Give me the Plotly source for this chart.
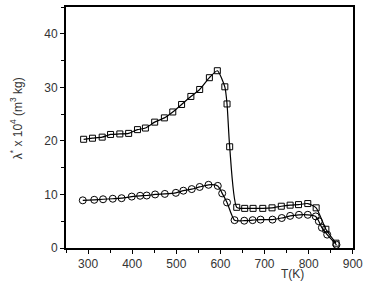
import plotly.graph_objects as go

sq_T = [290, 310, 332, 351, 372, 392, 412, 430, 451, 473, 492, 512, 533, 553, 575, 593, 610, 615, 621,
        637, 655, 674, 696, 717, 738, 758, 777, 798, 817, 839, 862]
sq_y = [20.3, 20.5, 20.7, 21.2, 21.3, 21.4, 22.1, 22.4, 23.5, 24.3, 25.4, 26.8, 28.3, 29.6, 31.8, 33.1, 30.1, 26.9, 18.9,
        7.6, 7.4, 7.4, 7.4, 7.5, 7.8, 8.0, 8.1, 8.3, 7.5, 3.5, 0.9]

ci_T = [288, 314, 334, 356, 376, 399, 418, 433, 452, 474, 499, 516, 535, 553, 573, 594, 604, 615,
        632, 654, 673, 691, 718, 739, 758, 778, 798, 816, 823, 830, 842, 863]
ci_y = [8.9, 9.0, 9.1, 9.2, 9.3, 9.6, 9.75, 9.8, 10.0, 10.1, 10.3, 10.7, 11.0, 11.4, 11.8, 11.6, 10.2, 8.5,
        5.2, 5.1, 5.2, 5.3, 5.3, 5.6, 6.0, 6.2, 6.2, 5.9, 5.0, 3.8, 2.5, 0.6]

x_ticks = [300, 400, 500, 600, 700, 800, 900]
y_ticks = [0, 10, 20, 30, 40]

fig = go.Figure()
fig.add_trace(go.Scatter(
    x=sq_T, y=sq_y, mode="lines+markers",
    line=dict(color="black", width=1.2, shape="spline", smoothing=0.6),
    marker=dict(symbol="square-open", size=6, color="black", line=dict(width=1)),
    showlegend=False))
fig.add_trace(go.Scatter(
    x=ci_T, y=ci_y, mode="lines+markers",
    line=dict(color="black", width=1.2, shape="spline", smoothing=0.6),
    marker=dict(symbol="circle-open", size=7, color="black", line=dict(width=1)),
    showlegend=False))

axis_common = dict(showline=True, linecolor="black", linewidth=2, mirror=True,
                   ticks="outside", ticklen=4, tickwidth=1.2, tickcolor="black",
                   showgrid=False, zeroline=False, ticklabeloverflow="allow",
                   tickfont=dict(family="Liberation Sans, Arial", size=12, color="#333"))

fig.update_xaxes(range=[250, 900.5], tickvals=x_ticks,
                 minor=dict(ticks="outside", ticklen=3, tickwidth=1, tickcolor="black", dtick=50, tick0=250),
                 **axis_common)
fig.update_yaxes(range=[0, 45], tickvals=y_ticks,
                 minor=dict(ticks="outside", ticklen=3, tickwidth=1, tickcolor="black", dtick=5, tick0=0),
                 **axis_common)

fig.add_annotation(text="T(K)", xref="paper", yref="paper", x=0.79, y=-0.146,
                   showarrow=False, xanchor="center", yanchor="bottom",
                   font=dict(family="Liberation Sans, Arial", size=12, color="#333"))
fig.add_annotation(text="λ<sup>*</sup> x 10<sup>4</sup> (m<sup>3</sup> kg)", xref="paper", yref="paper",
                   x=-0.173, y=0.54, textangle=-90, showarrow=False,
                   xanchor="center", yanchor="middle",
                   font=dict(family="Liberation Sans, Arial", size=12, color="#333"))

fig.update_layout(width=368, height=284, margin=dict(l=66, r=8, t=5, b=36),
                  plot_bgcolor="white", paper_bgcolor="white")

fig.write_html("out.html")
